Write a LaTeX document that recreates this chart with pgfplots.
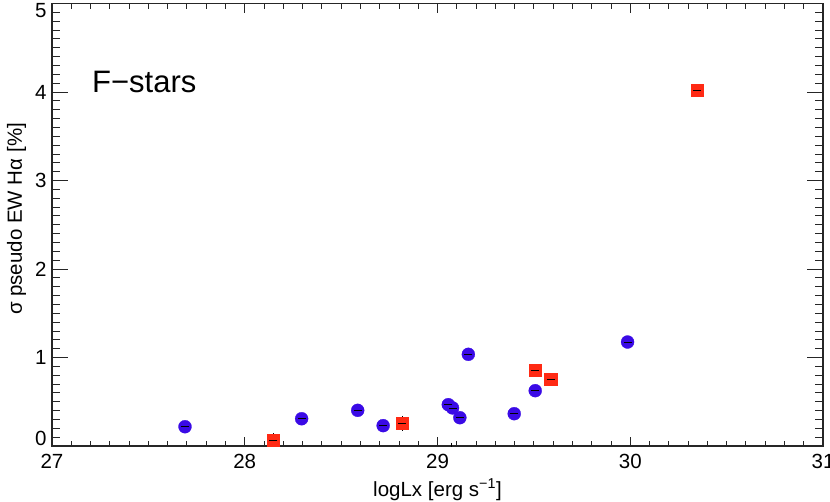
\documentclass[border=0pt]{standalone}
\usepackage{fontspec}
\setmainfont{Liberation Sans}
\usepackage{pgfplots}
\pgfplotsset{compat=1.18}
\usepackage{pgfplotstable}
\definecolor{fblue}{HTML}{3A0AE6}
\definecolor{fred}{HTML}{FF2A14}

% blue: inactive F-stars, red: active ones (logLx, sigma EW, error)
\pgfplotstableread{
x       y      e
27.690  0.218  0.004
28.295  0.308  0.004
28.586  0.403  0.004
28.718  0.230  0.004
29.056  0.467  0.004
29.078  0.430  0.008
29.116  0.320  0.004
29.073  -0.010 0.004
29.160  1.036  0.004
29.398  0.365  0.004
29.507  0.625  0.004
29.986  1.175  0.004
}\bluedata
\pgfplotstableread{
x       y      e
28.148  0.068  0.030
28.817  0.256  0.040
29.507  0.855  0.005
29.587  0.757  0.005
30.347  4.020  0.015
}\reddata

\pgfplotsset{
  fbase/.style={
    scale only axis, width=771bp, height=442.5bp,
    xmin=27, xmax=31, ymin=0, ymax=5,
    tick align=inside, tick pos=both,
    axis line style={line width=1.1bp, black!85},
    tick style={line width=0.9bp, black!85},
    tick label style={font=\fontsize{20.5bp}{24bp}\selectfont},
  },
  errs/.style={forget plot, only marks, mark=-, mark size=4bp,
    mark options={draw=black, line width=0.8bp},
    error bars/.cd, y dir=both, y explicit, error mark=-,
    error bar style={draw=black, line width=0.8bp},
    error mark options={draw=black, mark size=4bp, line width=0.8bp}},
}

\begin{document}
\begin{tikzpicture}
% x ticks (shorter than the y ticks)
\begin{axis}[fbase,
  xtick={27,28,29,30,31}, xticklabels={27,28,29,30,31},
  minor x tick num=9, ytick=\empty,
  major tick length=9bp, minor tick length=5bp,
  xticklabel style={yshift=-5bp},
]
\end{axis}
\begin{axis}[fbase,
  xtick=\empty,
  ytick={0,1,2,3,4,5},
  yticklabels={\raisebox{7.5bp}[\height][\depth]{0},1,2,3,4,\raisebox{-7bp}[\height][\depth]{5}},
  minor y tick num=9,
  major tick length=16bp, minor tick length=8bp,
  yticklabel style={xshift=-2bp},
  xlabel={logLx [erg s\textsuperscript{−1}]},
  ylabel={σ pseudo EW Hα [\%]},
  label style={font=\fontsize{20.5bp}{24bp}\selectfont},
  xlabel style={at={(axis description cs:0.5,-0.113)}, anchor=base},
  ylabel style={at={(axis description cs:-0.039,0.513)}, anchor=base},
]
\addplot[only marks, mark=*, mark size=6.5bp,
  mark options={fill=fblue, draw=fblue, line width=0.3bp}]
  table[x=x, y=y] {\bluedata};
\addplot[only marks, mark=square*, mark size=6.3bp,
  mark options={fill=fred, draw=fred, line width=0.3bp}]
  table[x=x, y=y] {\reddata};
\addplot[errs] table[x=x, y=y, y error=e] {\bluedata};
\addplot[errs] table[x=x, y=y, y error=e] {\reddata};
\node[anchor=base west, font=\fontsize{31bp}{35bp}\selectfont]
  at (axis cs:27.19,4.0) {F−stars};
\end{axis}
\pgfresetboundingbox
\path (-52bp,-56bp) rectangle (778bp,446bp);
\end{tikzpicture}
\end{document}
